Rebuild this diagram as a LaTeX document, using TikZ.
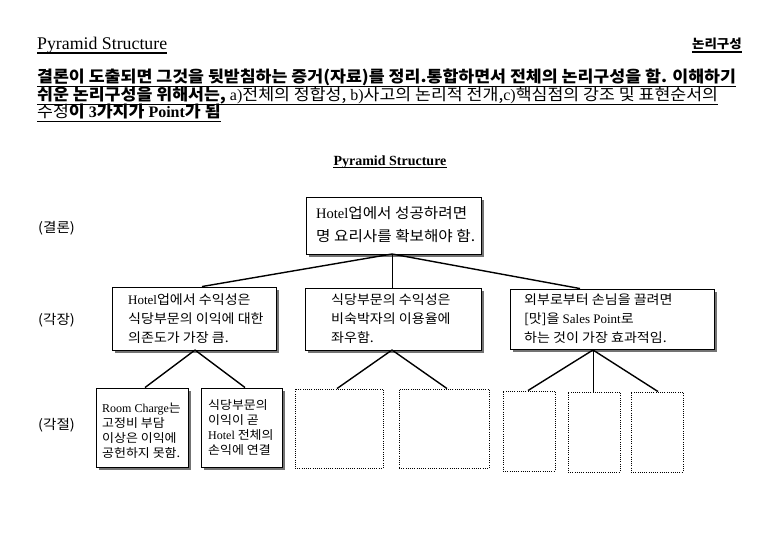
\documentclass[tikz,border=0pt]{standalone}
\usepackage{fontspec}
\setmainfont{Noto Sans CJK KR}[FakeStretch=1.08]
\newfontfamily\latn{Liberation Serif}
\usetikzlibrary{shadows}
\tikzset{
  txt/.style={inner sep=0pt, align=left},
  para/.style={txt, anchor=base west, font=\fontsize{16}{18}\selectfont},
  uline/.style={line width=1.2pt},
  sbox/.style={draw, line width=0.9pt, fill=white, inner sep=0pt,
    drop shadow={shadow xshift=3pt, shadow yshift=-3pt, fill=black!55, opacity=1}},
  dbox/.style={draw, line width=0.9pt, dash pattern=on 1pt off 1.2pt, inner sep=0pt},
  conn/.style={line width=1.4pt},
  vline/.style={line width=0.9pt},
  lvl/.style={txt, anchor=west, font=\fontsize{13.5}{15}\selectfont},
  tmid/.style={txt, anchor=west, font=\fontsize{13}{19}\selectfont},
  tsmall/.style={txt, anchor=west, font=\fontsize{12}{15}\selectfont},
}
\begin{document}
\begin{tikzpicture}[x=1pt,y=-1pt]
\useasboundingbox[fill=white] (0,0) rectangle (780,540);

% header
\node[txt, anchor=base west, font=\latn\fontsize{17.8}{20}\selectfont] (hd) at (37,50) {Pyramid Structure};
\draw[uline] ([yshift=-3pt]hd.base west) -- ([yshift=-3pt]hd.base east);
\node[txt, anchor=base east, font=\bfseries\fontsize{12.5}{15}\selectfont] (hr) at (742,49) {논리구성};
\draw[uline] ([yshift=-3pt]hr.base west) -- ([yshift=-3pt]hr.base east);

% paragraph
\node[para] (p1) at (37,83) {\bfseries 결론이 도출되면 그것을 뒷받침하는 증거(자료)를 정리.통합하면서 전체의 논리구성을 함. 이해하기};
\node[para] (p2) at (37,101) {{\bfseries 쉬운 논리구성을 위해서는,} {\latn a)}전체의 정합성, {\latn b)}사고의 논리적 전개,{\latn c)}핵심점의 강조 및 표현순서의};
\node[para] (p3) at (37,118) {수정{\bfseries 이 {\latn 3}가지가 {\latn Point}가 됨}};
\foreach \p in {p1,p2,p3}
  \draw[uline] ([yshift=-3.2pt]\p.base west) -- ([yshift=-3.2pt]\p.base east);

% title
\node[txt, font=\latn\bfseries\fontsize{14}{16}\selectfont] (pt) at (390,162) {Pyramid Structure};
\draw[line width=1pt] ([yshift=-2.5pt]pt.base west) -- ([yshift=-2.5pt]pt.base east);

% level labels
\node[lvl] (lv1) at (38,228) {(결론)};
\node[lvl] (lv2) at (38,320) {(각장)};
\node[lvl] (lv3) at (38,425) {(각절)};

% boxes
\node[sbox, minimum width=175, minimum height=57] (top) at (393.5,225.5) {};
\node[sbox, minimum width=164, minimum height=63] (l2a) at (194,318.5) {};
\node[sbox, minimum width=176, minimum height=62] (l2b) at (393,319) {};
\node[sbox, minimum width=204, minimum height=60] (l2c) at (612,319) {};
\node[sbox, minimum width=92, minimum height=79] (b1) at (142,427.5) {};
\node[sbox, minimum width=81, minimum height=79] (b2) at (241.5,427.5) {};
\node[dbox, minimum width=88, minimum height=79] (b3) at (339,428.5) {};
\node[dbox, minimum width=90, minimum height=79] (b4) at (444,428.5) {};
\node[dbox, minimum width=52, minimum height=80] (b5) at (529,431) {};
\node[dbox, minimum width=52, minimum height=80] (b6) at (594,432) {};
\node[dbox, minimum width=52, minimum height=80] (b7) at (657,432) {};

% texts
\node[txt, anchor=west, font=\fontsize{14.5}{23}\selectfont] (ttop) at (316,225) {{\latn Hotel}업에서 성공하려면\\명 요리사를 확보해야 함.};
\node[tmid] (t2a) at (128,319) {{\latn Hotel}업에서 수익성은\\식당부문의 이익에 대한\\의존도가 가장 큼.};
\node[tmid] (t2b) at (331,319) {식당부문의 수익성은\\비숙박자의 이용율에\\좌우함.};
\node[tmid] (t2c) at (524,319) {외부로부터 손님을 끌려면\\{[}맛{]}을 {\latn Sales Point}로\\하는 것이 가장 효과적임.};
\node[tsmall] (t3a) at (102,431) {{\latn Room Charge}는\\고정비 부담\\이상은 이익에\\공헌하지 못함.};
\node[tsmall] (t3b) at (208,428) {식당부문의\\이익이 곧\\{\latn Hotel} 전체의\\손익에 연결};

% connectors
\coordinate (a1) at (392,254);
\coordinate (a2) at (195,350);
\coordinate (a3) at (392,350);
\coordinate (a4) at (593,350);
\draw[conn] (a1) -- ([xshift=8pt]l2a.north);
\draw[vline] (a1) -- (a1 |- l2b.north);
\draw[conn] (a1) -- ([xshift=-32pt]l2c.north);
\draw[conn] (a2) -- ([xshift=3pt]b1.north);
\draw[conn] (a2) -- ([xshift=3.5pt]b2.north);
\draw[conn] (a3) -- ([xshift=-2pt]b3.north);
\draw[conn] (a3) -- ([xshift=3pt]b4.north);
\draw[conn] (a4) -- ([xshift=-1pt]b5.north);
\draw[vline] (a4) -- (a4 |- b6.north);
\draw[conn] (a4) -- ([xshift=1pt]b7.north);
\end{tikzpicture}
\end{document}
